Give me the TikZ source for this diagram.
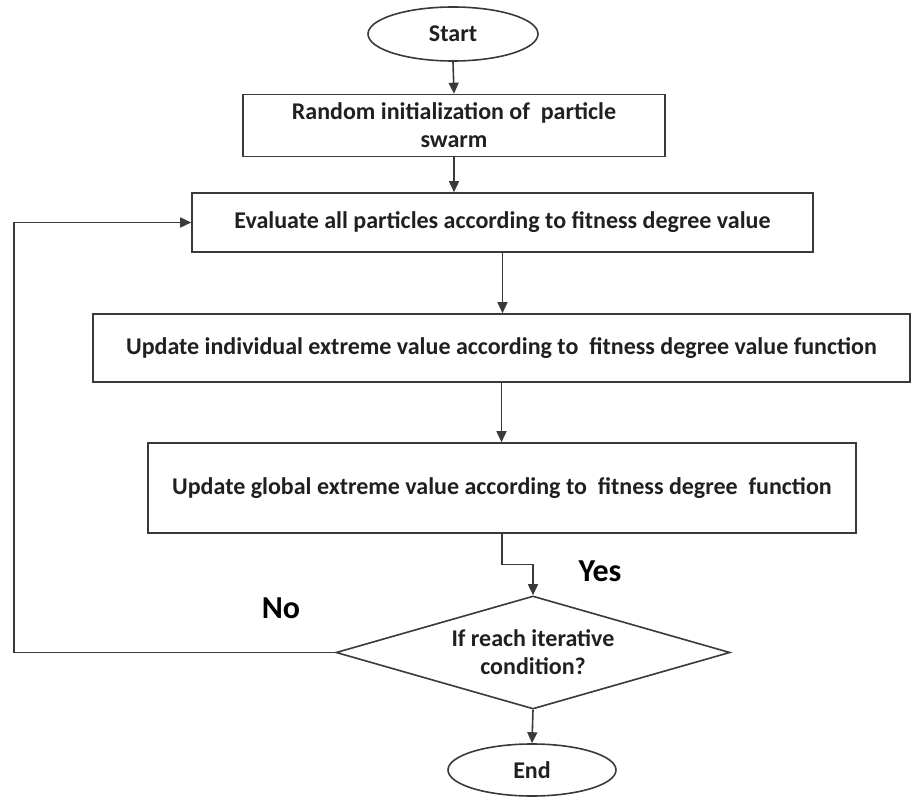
\documentclass[tikz,border=0pt]{standalone}
\usepackage{fontspec}
\setmainfont{Carlito}
\usetikzlibrary{shapes.geometric,arrows.meta,calc}
\definecolor{linegray}{HTML}{3A3A3A}
\definecolor{txt}{HTML}{202020}
\tikzset{
  boxtext/.style={font=\bfseries\fontsize{24}{28}\selectfont, text=txt, align=center, inner sep=0pt},
  procbox/.style={boxtext, draw=linegray, line width=1.6pt, rectangle},
  termnode/.style={boxtext, draw=linegray, line width=1.6pt, ellipse},
  decnode/.style={boxtext, draw=linegray, line width=1.6pt, diamond, aspect=3.5},
  arr/.style={draw=linegray, line width=1.6pt, -{Triangle[length=11pt,width=10pt]}},
  lbl/.style={font=\bfseries\fontsize{32}{36}\selectfont, text=black, inner sep=0pt}
}
\begin{document}
\begin{tikzpicture}[x=1pt,y=-1pt]
\useasboundingbox[fill=white] (0,0) rectangle (914,799);
\node[termnode, minimum width=170pt, minimum height=54pt] (start) at (453,34) {Start};
\node[procbox, minimum width=422pt, minimum height=62pt] (b1) at (454,125.5) {Random initialization of~ particle\\swarm};
\node[procbox, minimum width=621pt, minimum height=59pt] (b2) at (502.5,222.5) {Evaluate all particles according to fitness degree value};
\node[procbox, minimum width=817pt, minimum height=68pt] (b3) at (501.5,348) {Update individual extreme value according to~ fitness degree value function};
\node[procbox, minimum width=708pt, minimum height=90pt] (b4) at (502,488) {Update global extreme value according to~ fitness degree~ function};
\node[decnode, minimum width=394pt, minimum height=113pt] (dia) at (533,652.5) {If reach iterative\\condition?};
\node[termnode, minimum width=168pt, minimum height=52pt] (end) at (532,770) {End};
\node[lbl] (yes) at (600,571) {Yes};
\node[lbl] (no) at (281,608) {No};
\coordinate (loopx) at (14,0);
\draw[arr] (start.south) -- (b1.north);
\draw[arr] (b1.south) -- (b1.south |- b2.north);
\draw[arr] (b2.south) -- (b2.south |- b3.north);
\draw[arr] (b3.south) -- (b3.south |- b4.north);
\draw[arr] (b4.south) |- ($(b4.south)!0.5!(dia.north)$) -| (dia.north);
\draw[arr] (dia.south) -- (end.north);
\draw[arr] (dia.west) -- (dia.west -| loopx) |- (b2.west);
\end{tikzpicture}
\end{document}
